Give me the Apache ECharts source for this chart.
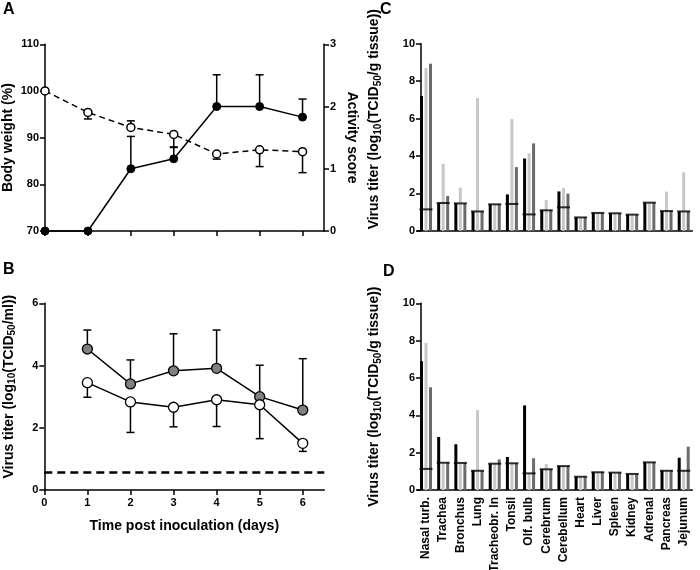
<!DOCTYPE html>
<html><head><meta charset="utf-8">
<script src="https://cdn.jsdelivr.net/npm/echarts@6/dist/echarts.min.js"></script>
<style>html,body{margin:0;padding:0;background:#fff}#c{width:700px;height:570px}</style>
</head><body><div id="c"></div>
<script>
// ---- Panel A ----
const days = [0, 1, 2, 3, 4, 5, 6];
const weight = [100, 95.4, 92.2, 90.7, 86.5, 87.4, 87.0];
const weightErrEnd = [null, 94.0, 93.6, 87.9, 85.4, 83.8, 82.5];
const activity = [0, 0, 1.0, 1.16, 2.0, 2.0, 1.83];
const activityErrEnd = [null, null, 1.52, 1.35, 2.51, 2.51, 2.12];
const dayTicks = [0, 1, 2, 3, 4, 5, 6];

// ---- Panel B ----
const titerDays = [1, 2, 3, 4, 5, 6];
const titerGray = [4.53, 3.41, 3.83, 3.91, 3.0, 2.57];
const titerGrayErrEnd = [5.14, 4.18, 5.02, 5.14, 4.01, 4.22];
const titerOpen = [3.45, 2.83, 2.66, 2.9, 2.74, 1.5];
const titerOpenErrEnd = [2.98, 1.85, 2.03, 2.04, 1.65, 1.24];
const titerLimit = 0.57;

// ---- Panels C & D ----
const tissues = ['Nasal turb.', 'Trachea', 'Bronchus', 'Lung', 'Tracheobr. ln', 'Tonsil', 'Olf. bulb', 'Cerebrum', 'Cerebellum', 'Heart', 'Liver', 'Spleen', 'Kidney', 'Adrenal', 'Pancreas', 'Jejunum'];
const limitC = [1.14, 1.48, 1.46, 1.03, 1.41, 1.43, 0.87, 1.09, 1.25, 0.71, 0.95, 0.93, 0.86, 1.5, 1.05, 1.03];
const cBlack = [7.2, 1.48, 1.46, 1.03, 1.41, 1.94, 3.86, 1.09, 2.1, 0.71, 0.95, 0.93, 0.86, 1.5, 1.05, 1.03];
const cLight = [8.7, 3.58, 2.3, 7.1, 1.41, 5.97, 4.14, 1.64, 2.28, 0.71, 0.95, 0.93, 0.86, 1.5, 2.09, 3.12];
const cDark = [8.93, 1.86, 1.46, 1.03, 1.41, 3.4, 4.67, 1.09, 1.98, 0.71, 0.95, 0.93, 0.86, 1.5, 1.05, 1.03];
const limitD = [1.13, 1.46, 1.45, 1.03, 1.41, 1.43, 0.89, 1.11, 1.28, 0.71, 0.95, 0.93, 0.86, 1.48, 1.03, 1.03];
const dBlack = [6.9, 2.84, 2.45, 1.03, 1.41, 1.77, 4.53, 1.11, 1.28, 0.71, 0.95, 0.93, 0.86, 1.48, 1.03, 1.73];
const dLight = [7.87, 1.46, 1.45, 4.28, 1.41, 1.43, 0.89, 1.39, 1.28, 0.71, 0.95, 0.93, 0.86, 1.48, 1.03, 1.03];
const dDark = [5.5, 1.46, 1.45, 1.03, 1.64, 1.43, 1.7, 1.11, 1.28, 0.71, 0.95, 0.93, 0.86, 1.48, 1.03, 2.32];

const F = "'Liberation Sans', Arial, Helvetica, sans-serif";
const chart = echarts.init(document.getElementById('c'));
const AL = { lineStyle: { color: '#000', width: 1.5 } };
const TK = { length: 5, lineStyle: { color: '#000', width: 1.5 } };
const LBL = { color: '#000', fontFamily: F, fontWeight: 'bold', fontSize: 11 };
const NAME = { color: '#000', fontFamily: F, fontWeight: 'bold', fontSize: 14, lineHeight: 17,
  rich: { s: { fontFamily: F, fontWeight: 'bold', fontSize: 10, lineHeight: 10, verticalAlign: 'bottom' } } };
const TT = { fontFamily: F, fontWeight: 'bold', fontSize: 16, color: '#000' };

function errSeries(xi, yi, xs, ys, ends) {
  const data = [];
  xs.forEach((x, i) => { if (ends[i] != null) data.push([x, ys[i], ends[i]]); });
  return {
    type: 'custom', xAxisIndex: xi, yAxisIndex: yi, z: 1, silent: true, clip: false,
    data: data,
    renderItem(params, api) {
      const p0 = api.coord([api.value(0), api.value(1)]);
      const p1 = api.coord([api.value(0), api.value(2)]);
      const w = 4;
      return { type: 'group', children: [
        { type: 'line', shape: { x1: p0[0], y1: p0[1], x2: p1[0], y2: p1[1] }, style: { stroke: '#000', lineWidth: 1.5 } },
        { type: 'line', shape: { x1: p1[0] - w, y1: p1[1], x2: p1[0] + w, y2: p1[1] }, style: { stroke: '#000', lineWidth: 1.5 } }
      ] };
    }
  };
}
function pairs(xs, ys) { return xs.map((x, i) => [x, ys[i]]); }

function barS(xi, yi, data, color) {
  return { type: 'bar', xAxisIndex: xi, yAxisIndex: yi, data: data, barWidth: 3, barGap: '50%',
    itemStyle: { color: color }, silent: true, z: 2 };
}
function limS(xi, yi, data) {
  return { type: 'scatter', xAxisIndex: xi, yAxisIndex: yi, data: data, symbol: 'rect', symbolSize: [13, 2],
    itemStyle: { color: '#000' }, silent: true, z: 5 };
}
const G = { containLabel: false, outerBoundsMode: 'none' };

const option = {
  animation: false,
  backgroundColor: '#fff',
  title: [
    { text: 'A', left: 3, top: 2, padding: 0, textStyle: TT },
    { text: 'B', left: 3, top: 262, padding: 0, textStyle: TT },
    { text: 'C', left: 380, top: 2, padding: 0, textStyle: TT },
    { text: 'D', left: 383, top: 264, padding: 0, textStyle: TT }
  ],
  grid: [
    Object.assign({ left: 45, top: 44.3, width: 279, height: 186.7 }, G),
    Object.assign({ left: 44.3, top: 303.3, width: 280, height: 186.7 }, G),
    Object.assign({ left: 417.4, top: 43.7, width: 274.9, height: 187 }, G),
    Object.assign({ left: 417.4, top: 303.3, width: 274.9, height: 186.7 }, G)
  ],
  xAxis: [
    { gridIndex: 0, type: 'value', min: 0, max: 6.5, axisLine: AL, splitLine: { show: false },
      axisTick: Object.assign({ customValues: dayTicks }, TK), axisLabel: { show: false } },
    { gridIndex: 1, type: 'value', min: 0, max: 6.5, axisLine: AL, splitLine: { show: false },
      axisTick: Object.assign({ customValues: dayTicks }, TK),
      axisLabel: Object.assign({ customValues: dayTicks, margin: 7 }, LBL),
      name: 'Time post inoculation (days)', nameLocation: 'middle', nameGap: 28, nameTextStyle: NAME },
    { gridIndex: 2, type: 'category', data: tissues, boundaryGap: true, axisLine: AL,
      axisTick: Object.assign({ alignWithLabel: true }, TK), axisLabel: { show: false } },
    { gridIndex: 3, type: 'category', data: tissues, boundaryGap: true, axisLine: AL,
      axisTick: Object.assign({ alignWithLabel: true }, TK),
      axisLabel: Object.assign({}, LBL, { rotate: 90, margin: 7, interval: 0, fontSize: 12 }) }
  ],
  yAxis: [
    { gridIndex: 0, type: 'value', min: 70, max: 110, interval: 10, axisLine: Object.assign({ show: true }, AL),
      axisTick: Object.assign({ show: true }, TK), splitLine: { show: false }, axisLabel: Object.assign({ margin: 6 }, LBL),
      name: 'Body weight (%)', nameLocation: 'middle', nameGap: 26, nameRotate: 90, nameTextStyle: NAME },
    { gridIndex: 0, type: 'value', position: 'right', min: 0, max: 3, interval: 1, axisLine: Object.assign({ show: true }, AL),
      axisTick: Object.assign({ show: true }, TK), splitLine: { show: false }, axisLabel: Object.assign({ margin: 6 }, LBL),
      name: 'Activity score', nameLocation: 'middle', nameGap: 19, nameRotate: -90, nameTextStyle: NAME },
    { gridIndex: 1, type: 'value', min: 0, max: 6, interval: 2, axisLine: Object.assign({ show: true }, AL),
      axisTick: Object.assign({ show: true }, TK), splitLine: { show: false }, axisLabel: Object.assign({ margin: 6 }, LBL),
      name: 'Virus titer (log{s|10}(TCID{s|50}/ml))', nameLocation: 'middle', nameGap: 27, nameRotate: 90,
      nameTextStyle: Object.assign({}, NAME, { padding: [0, 0, 0, 20] }) },
    { gridIndex: 2, type: 'value', min: 0, max: 10, interval: 2, offset: -3.6, axisLine: Object.assign({ show: true }, AL),
      axisTick: Object.assign({ show: true }, TK), splitLine: { show: false }, axisLabel: Object.assign({ margin: 6 }, LBL),
      name: 'Virus titer (log{s|10}(TCID{s|50}/g tissue))', nameLocation: 'middle', nameGap: 38, nameRotate: 90,
      nameTextStyle: Object.assign({}, NAME, { padding: [0, 0, 0, 36] }) },
    { gridIndex: 3, type: 'value', min: 0, max: 10, interval: 2, offset: -3.6, axisLine: Object.assign({ show: true }, AL),
      axisTick: Object.assign({ show: true }, TK), splitLine: { show: false }, axisLabel: Object.assign({ margin: 6 }, LBL),
      name: 'Virus titer (log{s|10}(TCID{s|50}/g tissue))', nameLocation: 'middle', nameGap: 38, nameRotate: 90,
      nameTextStyle: NAME }
  ],
  series: [
    errSeries(0, 0, days, weight, weightErrEnd),
    errSeries(0, 1, days, activity, activityErrEnd),
    { type: 'line', xAxisIndex: 0, yAxisIndex: 0, data: pairs(days, weight), clip: false, z: 3,
      symbol: 'circle', symbolSize: 8, itemStyle: { color: '#fff', borderColor: '#000', borderWidth: 1.5 },
      lineStyle: { color: '#000', width: 1.5, type: [6, 4] } },
    { type: 'line', xAxisIndex: 0, yAxisIndex: 1, data: pairs(days, activity), clip: false, z: 3,
      symbol: 'circle', symbolSize: 8, itemStyle: { color: '#000', borderColor: '#000', borderWidth: 1 },
      lineStyle: { color: '#000', width: 1.5 } },

    errSeries(1, 2, titerDays, titerGray, titerGrayErrEnd),
    errSeries(1, 2, titerDays, titerOpen, titerOpenErrEnd),
    { type: 'line', xAxisIndex: 1, yAxisIndex: 2, data: pairs(titerDays, titerGray), clip: false, z: 3,
      symbol: 'circle', symbolSize: 10, itemStyle: { color: '#808080', borderColor: '#000', borderWidth: 1.3 },
      lineStyle: { color: '#000', width: 1.5 },
      markLine: { silent: true, symbol: 'none', label: { show: false },
        lineStyle: { color: '#000', width: 2.5, type: [8, 5] }, data: [{ yAxis: titerLimit }] } },
    { type: 'line', xAxisIndex: 1, yAxisIndex: 2, data: pairs(titerDays, titerOpen), clip: false, z: 3,
      symbol: 'circle', symbolSize: 10, itemStyle: { color: '#fff', borderColor: '#000', borderWidth: 1.3 },
      lineStyle: { color: '#000', width: 1.5 } },

    barS(2, 3, cBlack, '#000'), barS(2, 3, cLight, '#c8c8c8'), barS(2, 3, cDark, '#6b6b6b'),
    limS(2, 3, limitC),
    barS(3, 4, dBlack, '#000'), barS(3, 4, dLight, '#c8c8c8'), barS(3, 4, dDark, '#6b6b6b'),
    limS(3, 4, limitD)
  ]
};
chart.setOption(option);
</script>
</body></html>
